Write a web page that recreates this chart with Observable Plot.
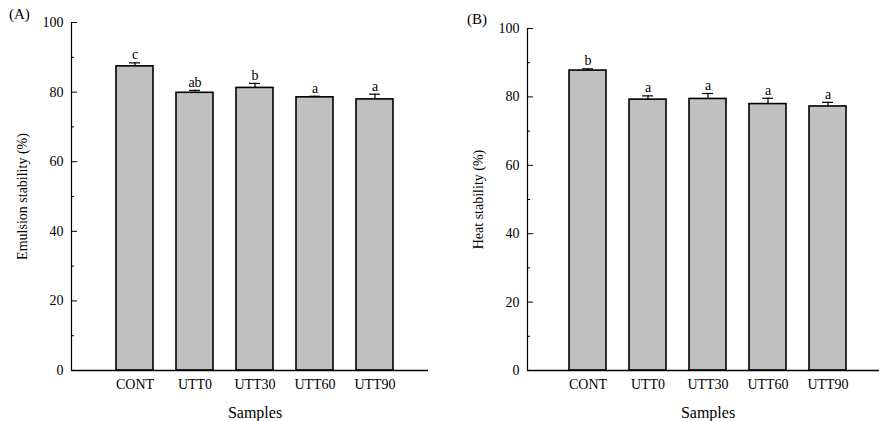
<!DOCTYPE html>
<html>
<head>
<meta charset="utf-8">
<script src="https://cdn.jsdelivr.net/npm/d3@7"></script>
<script src="https://cdn.jsdelivr.net/npm/@observablehq/plot@0.6"></script>
<style>
  html, body { margin: 0; padding: 0; background: #fff; }
  #wrap { position: relative; width: 879px; height: 421px; font-family: "Liberation Serif", "DejaVu Serif", serif; }
  .panel { position: absolute; top: 0; }
  .tag { position: absolute; font-size: 15px; color: #000; }
</style>
</head>
<body>
<div id="wrap">
  <div class="panel" id="pA" style="left:0px"></div>
  <div class="panel" id="pB" style="left:440px"></div>
  <div class="tag" style="left:9px; top:6px">(A)</div>
  <div class="tag" style="left:467px; top:11px">(B)</div>
</div>
<script>
const samples = ["CONT", "UTT0", "UTT30", "UTT60", "UTT90"];
const emulsion = [87.4, 79.8, 81.2, 78.5, 77.9];
const emulsionSd = [1.0, 0.7, 1.3, 0.3, 1.5];
const emulsionLetters = ["c", "ab", "b", "a", "a"];
const heat = [87.7, 79.2, 79.4, 77.9, 77.2];
const heatSd = [0.5, 1.1, 1.6, 1.7, 1.2];
const heatLetters = ["b", "a", "a", "a", "a"];
const majorTicks = [0, 20, 40, 60, 80, 100];
const minorTicks = [10, 30, 50, 70, 90];

function panel({values, sd, letters, ylabel, width, marginLeft, marginRight, marginTop, xRange}) {
  const data = samples.map((s, i) => ({s, v: values[i], e: values[i] + sd[i], l: letters[i]}));
  return Plot.plot({
    width, height: 421,
    marginLeft, marginRight, marginTop, marginBottom: 51,
    style: {fontFamily: "Liberation Serif", fontSize: "14px", color: "#000", background: "transparent"},
    x: {domain: samples, range: xRange, paddingInner: 0.39, paddingOuter: 0, align: 0.5},
    y: {domain: [0, 100]},
    marks: [
      Plot.barY(data, {x: "s", y: "v", fill: "#c0c0c0", stroke: "#000", strokeWidth: 1.6}),
      Plot.ruleX(data, {x: "s", y1: "v", y2: "e", stroke: "#000", strokeWidth: 1.2}),
      Plot.tickY(data, {x: "s", y: "e", stroke: "#000", strokeWidth: 1.2, insetLeft: 13, insetRight: 13}),
      Plot.text(data, {x: "s", y: "e", text: "l", dy: -8, fontSize: 14, fill: "#000"}),
      Plot.ruleY([0], {stroke: "#000", strokeWidth: 1.6}),
      Plot.frame({anchor: "left", stroke: "#000", strokeWidth: 1.2}),
      Plot.axisY({ticks: majorTicks, tickSize: -6, tickPadding: 14, label: ylabel, labelAnchor: "center", labelArrow: "none", labelOffset: 54, fontSize: 14}),
      Plot.axisY({ticks: minorTicks, tickSize: -3, tickFormat: () => "", label: null}),
      Plot.axisX({tickSize: 0, tickPadding: 9, label: null, fontSize: 14}),
      Plot.text(["Samples"], {x: () => "UTT30", frameAnchor: "bottom", dy: 47, fontSize: 16, fill: "#000"})
    ]
  });
}

document.getElementById("pA").append(panel({
  values: emulsion, sd: emulsionSd, letters: emulsionLetters,
  ylabel: "Emulsion stability (%)", width: 440, marginLeft: 71, marginRight: 12, marginTop: 22,
  xRange: [114, 395]
}));
document.getElementById("pB").append(panel({
  values: heat, sd: heatSd, letters: heatLetters,
  ylabel: "Heat stability (%)", width: 439, marginLeft: 87, marginRight: 0, marginTop: 28,
  xRange: [129, 406]
}));
</script>
</body>
</html>
